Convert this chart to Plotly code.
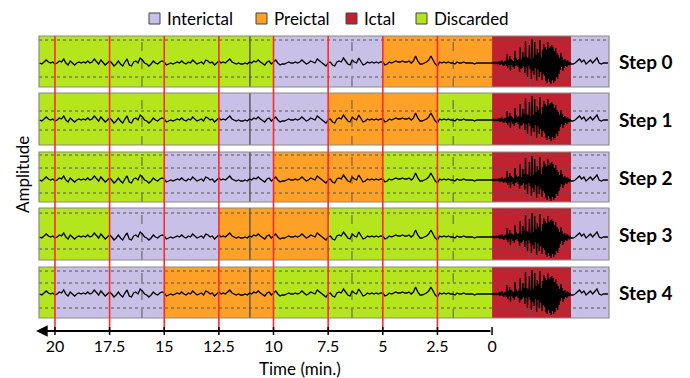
import numpy as np
import plotly.graph_objects as go

# ---------------- data ----------------
steps = ["Step 0", "Step 1", "Step 2", "Step 3", "Step 4"]
tick_vals = [20, 17.5, 15, 12.5, 10, 7.5, 5, 2.5, 0]
tick_text = ["20", "17.5", "15", "12.5", "10", "7.5", "5", "2.5", "0"]
red_lines = [20, 17.5, 15, 12.5, 10, 7.5, 5, 2.5]

# per-step windows (minutes before seizure onset)
inter_start = [10, 12.5, 15, 17.5, 20]
inter_end = [5, 7.5, 10, 12.5, 15]
pre_start = [5, 7.5, 10, 12.5, 15]
pre_end = [0, 2.5, 5, 7.5, 10]
ictal_start, ictal_end = 0, -3.62
t_left, t_right = 20.73, -5.35

labels = ["Interictal", "Preictal", "Ictal", "Discarded"]
colors = {"Interictal": "#C8C0E6", "Preictal": "#FFA126",
          "Ictal": "#C1222F", "Discarded": "#B5E51D"}

# EEG trace (amplitude, arbitrary units), pre-ictal part: 20.7 -> 0.0 min, 0.1 min steps
sig_pre = [
    0, -1, 1, 3, 1, 0, 1, -1, 0, 2, 1, 4, 0, -2, 2, 0, -2, 0, 1, 0, 1, 0, 2, 0, 1, 4, 1, -1, 3, 1, -2, 0, 2,
    0, -3, -1, 2, -1, -3, 1, 4, -2, -3, 1, 2, 0, 5, 3, 0, -1, -3, -1, 2, 0, -1, 1, 2, 1,
    -2, -1, 0, -1, 0, 1, 0, 2, 0, -1, 1, 0, 3, 1, -1, 0, 1, -1, 3, 2, 0, 1, -2, 0, 2,
    0, 1, 0, 2, 4, 1, 0, -1, 0, -1, -1, 0, -1, 1, 0, 2, 1, 3, 1, -1, -2, 1, 2, -1, 1,
    3, 0, -2, -1, -1, 0, 1, 0, 0, 1, 0, 1, 3, 1, -1, 0, 2, 1, 0, 4, 2, 0, -2, -3, 0,
    1, -2, -3, 1, 2, 1, 5, 2, -1, -2, 3, 1, 0, 5, 1, -2, -1, 1, 0, 1, 0, 1, 0, 1, 1,
    -2, -1, 1, 0, 1, 2, 1, 1, 2, 1, 1, 2, 0, 2, 7, 2, -1, -1, 0, 1, 3, 7, 3, -1, -3,
    1, 0, 1, 0, 1, 0, 0, -1, 1, 0, 0, 1, 0, 0, 0, 0, -1, 0, 0, 0, 0, 0, 0, 0, 0,
]
# ictal part: 0 -> -3.6 min
sig_ictal = [
    0, 1, -1, 0, 1, -1, 1, 0, -1, 1,
    1, -2, 2, -1, 3, -2, 1, -3, 2, -1,
    2, -3, 9, -5, 3, -2, 7, -8, 4, -2,
    3, -4, 2, -6, 12, -3, 5, -2, 3, -4,
    4, -9, 16, -6, 3, -5, 11, -3, 6, -10,
    22, -4, 6, -14, 5, -3, 18, -6, 4, -16,
    24, -8, 5, -12, 21, -5, 8, -18, 14, -6,
    10, -14, 23, -9, 6, -17, 13, -11, 19, -13,
    16, -18, 14, -20, 21, -16, 15, -19, 17, -21,
    18, -17, 16, -20, 12, -18, 15, -14, 10, -16,
    8, -11, 5, -7, 10, -4, 6, -8, 3, -5,
    4, -3, 2, -4, 3, -2, 1, -2, 1, -1,
]
# post-ictal part: -3.7 -> -5.3 min
sig_post = [-1, 0, 2, 4, 1, 3, -1, 1, 3, 0, 2, 5, 0, -1, 0, 0, 0]

t_pre = np.linspace(20.7, 0.0, len(sig_pre))
t_ictal = np.linspace(-0.03, -3.6, len(sig_ictal))
t_post = np.linspace(-3.7, -5.3, len(sig_post))
t_all = np.concatenate([t_pre, t_ictal, t_post])
sig_all = np.concatenate([sig_pre, sig_ictal, sig_post])

# original EEG-viewer grid inside each panel
vgrid_dashed = [16.02, 6.41, 1.78, -1.74]
vgrid_solid = [11.08]
hgrid = [[23, -14], [9, -10], [25, 12, -13], [24, -12], [23, 11, -14]]
y_ranges = [[-24, 27], [-25, 27], [-22, 28], [-23, 29], [-24, 27]]

# ---------------- layout geometry ----------------
W, H = 690, 378
ML, MR, MT, MB = 39, 81, 35, 48
PW, PH = W - ML - MR, H - MT - MB
panel_px = [(36, 87), (93, 145), (152, 202), (208, 260), (267, 318)]


def yp(py):
    return (H - MB - py) / PH


def xp(px):
    return (px - ML) / PW


FONT = "Lato"
fig = go.Figure()
shapes, annots = [], []

for k in range(5):
    yname = "y" if k == 0 else f"y{k+1}"
    fig.add_trace(go.Scatter(x=t_all, y=sig_all, mode="lines",
                             line=dict(color="black", width=1.3),
                             xaxis="x", yaxis=yname, showlegend=False,
                             hoverinfo="skip"))
    dref = f"{yname} domain"
    segs = [
        (t_left, inter_start[k], "Discarded"),
        (inter_start[k], inter_end[k], "Interictal"),
        (pre_start[k], pre_end[k], "Preictal"),
        (pre_end[k], ictal_start, "Discarded"),
        (ictal_start, ictal_end, "Ictal"),
        (ictal_end, t_right, "Interictal"),
    ]
    for a, b, lab in segs:
        if a == b:
            continue
        shapes.append(dict(type="rect", xref="x", yref=dref, x0=a, x1=b, y0=0, y1=1,
                           fillcolor=colors[lab], line=dict(width=0), layer="below"))
    for v in vgrid_dashed:
        shapes.append(dict(type="line", xref="x", yref=dref, x0=v, x1=v, y0=0, y1=1,
                           line=dict(color="#5a5a5a", width=1, dash="dash"), layer="below"))
    for v in vgrid_solid:
        shapes.append(dict(type="line", xref="x", yref=dref, x0=v, x1=v, y0=0, y1=1,
                           line=dict(color="#5a5a5a", width=1.5), layer="below"))
    for h in hgrid[k]:
        shapes.append(dict(type="line", xref="x domain", yref=yname, x0=0, x1=1, y0=h, y1=h,
                           line=dict(color="#555555", width=1, dash="dot"), layer="below"))
    shapes.append(dict(type="rect", xref="x domain", yref=dref, x0=0, x1=1, y0=0, y1=1,
                       line=dict(color="#8a8a8a", width=1.2), fillcolor="rgba(0,0,0,0)",
                       layer="below"))
    annots.append(dict(text=f"<b>{steps[k]}</b>", xref="paper", yref=dref,
                       x=xp(617), y=0.5, xanchor="left", yanchor="middle", showarrow=False,
                       font=dict(family=FONT, size=19, color="black")))

# red step boundaries
for v in red_lines:
    shapes.append(dict(type="line", xref="x", yref="paper", x0=v, x1=v, y0=yp(331), y1=yp(36),
                       line=dict(color="#FF2B2B", width=1.6), layer="above"))

# tick marks crossing the time axis line
for v in tick_vals:
    shapes.append(dict(type="line", xref="x", yref="paper", x0=v, x1=v, y0=yp(335), y1=yp(327),
                       line=dict(color="black", width=1.5), layer="above"))

# time axis with arrow
annots.append(dict(x=xp(36), y=yp(331), xref="paper", yref="paper", text="",
                   showarrow=True, axref="pixel", ayref="pixel", ax=492 - 36, ay=0,
                   arrowhead=2, arrowsize=1.3, arrowwidth=1.8, arrowcolor="black"))

annots.append(dict(text="Time (min.)", xref="paper", yref="paper", x=xp(300), y=yp(368),
                   showarrow=False, font=dict(family=FONT, size=17, color="black"),
                   xanchor="center", yanchor="middle"))
annots.append(dict(text="Amplitude", xref="paper", yref="paper", x=xp(22), y=yp(175),
                   showarrow=False, textangle=-90,
                   font=dict(family=FONT, size=17, color="black"),
                   xanchor="center", yanchor="middle"))

# legend (manual)
leg_sq_x = [149, 256, 346, 416]
for lab, sx in zip(labels, leg_sq_x):
    shapes.append(dict(type="rect", xref="paper", yref="paper",
                       x0=xp(sx), x1=xp(sx + 11), y0=yp(24), y1=yp(13),
                       fillcolor=colors[lab], line=dict(color="#444444", width=1)))
    annots.append(dict(text=lab, xref="paper", yref="paper", x=xp(sx + 16), y=yp(18.5),
                       xanchor="left", yanchor="middle", showarrow=False,
                       font=dict(family=FONT, size=17, color="black")))

layout = dict(
    width=W, height=H,
    margin=dict(l=ML, r=MR, t=MT, b=MB, pad=0),
    plot_bgcolor="white", paper_bgcolor="white",
    showlegend=False,
    shapes=shapes, annotations=annots,
    xaxis=dict(range=[t_left, t_right], domain=[0, 1], anchor="free", position=0,
               tickvals=tick_vals, ticktext=tick_text, ticks="outside", ticklen=4,
               tickwidth=0.01, tickcolor="rgba(0,0,0,0)", showgrid=False, zeroline=False,
               showline=False, ticklabelstandoff=-2,
               tickfont=dict(family=FONT, size=16, color="black")),
)
for k in range(5):
    key = "yaxis" if k == 0 else f"yaxis{k+1}"
    top, bot = panel_px[k]
    layout[key] = dict(domain=[yp(bot), yp(top)], range=y_ranges[k], anchor="x",
                       showticklabels=False, showgrid=False, zeroline=False,
                       showline=False, ticks="")
fig.update_layout(**layout)
fig.write_html("out.html", config={"displayModeBar": False},
               post_script="document.body.style.margin='0';document.body.style.overflow='hidden';")
